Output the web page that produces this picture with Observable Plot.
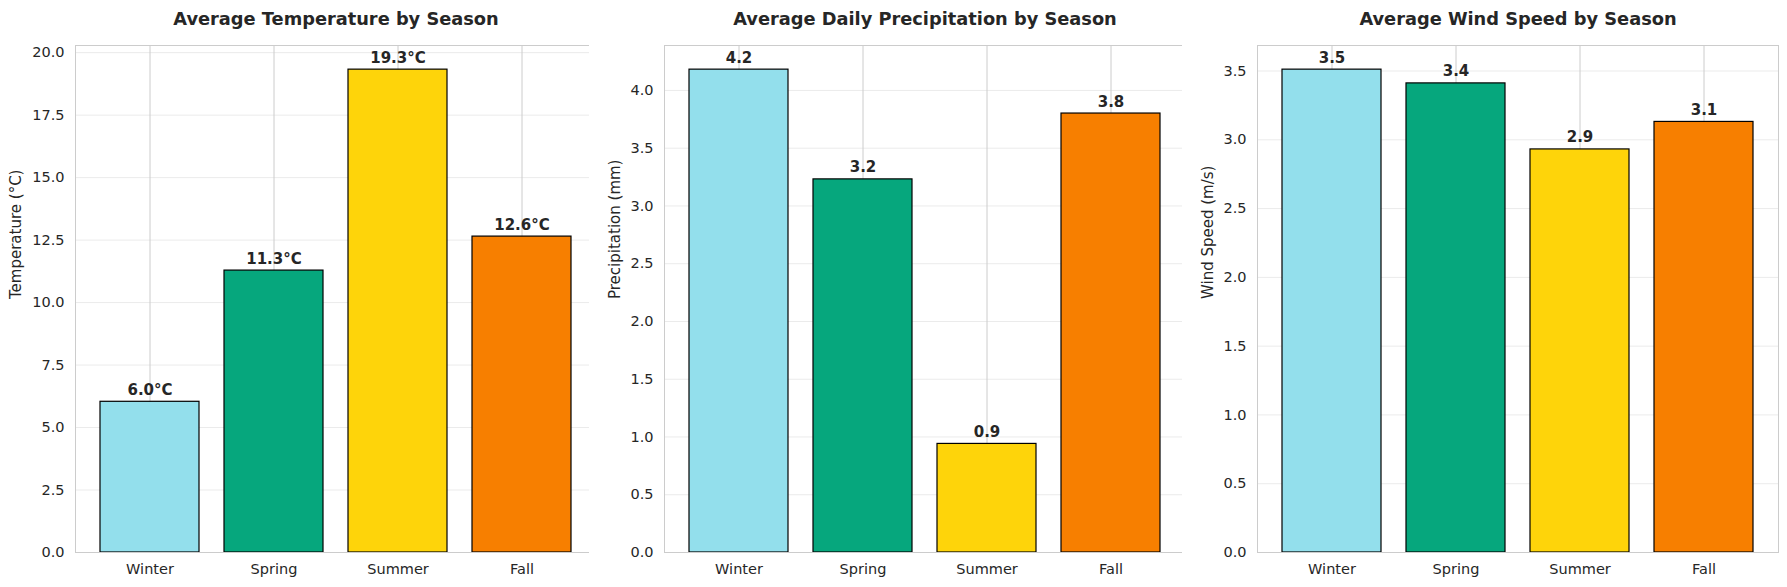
<!DOCTYPE html>
<html>
<head>
<meta charset="utf-8">
<script src="https://cdn.jsdelivr.net/npm/d3@7"></script>
<script src="https://cdn.jsdelivr.net/npm/@observablehq/plot@0.6"></script>
<style>
  body { margin: 0; background: white; }
  #chart { position: relative; width: 1787px; height: 587px; overflow: hidden; }
  #chart svg { position: absolute; top: 0; }
</style>
</head>
<body>
<div id="chart"></div>
<script>
// values
const seasons = ['Winter', 'Spring', 'Summer', 'Fall']
const seasonColors = ['#93dfec', '#06a77d', '#fed40a', '#f77f00']
const temperature = [6.03, 11.28, 19.32, 12.64]
const precipitation = [4.18, 3.23, 0.94, 3.80]
const windSpeed = [3.51, 3.41, 2.93, 3.13]

const tempTicks = [0, 2.5, 5, 7.5, 10, 12.5, 15, 17.5, 20]
const precipTicks = [0, 0.5, 1, 1.5, 2, 2.5, 3, 3.5, 4]
const windTicks = [0, 0.5, 1, 1.5, 2, 2.5, 3, 3.5]

const textColor = '#262626'
const f1 = d3.format('.1f')

function panel(opts) {
  const data = seasons.map((s, i) => ({season: s, value: opts.values[i]}))
  const top = d3.max(opts.values) * 1.05

  let chart = Plot.plot({
    width: 601,
    height: 587,
    marginLeft: 75,
    marginRight: 5,
    marginTop: 45,
    marginBottom: 35,
    x: {
      domain: seasons,
      paddingInner: 0.2,
      paddingOuter: 0.19,
      axis: null,
    },
    y: {
      domain: [0, top],
      axis: null,
    },
    color: { domain: seasons, range: seasonColors },
    marks: [
      Plot.gridY({ticks: opts.ticks, stroke: '#ebebeb', strokeOpacity: 1}),
      Plot.gridX({stroke: '#cccccc', strokeOpacity: 1, strokeWidth: 1}),
      Plot.barY(data, {
        x: 'season',
        y: 'value',
        fill: 'season',
        stroke: 'black',
        strokeWidth: 1.2,
      }),
      // value labels, baseline ~7px above the bar
      Plot.text(data, {
        x: 'season',
        y: 'value',
        text: d => f1(d.value) + opts.suffix,
        fontWeight: 'bold',
        fontSize: 15,
        fill: textColor,
        lineAnchor: 'middle',
        dy: -11.8,
      }),
      Plot.frame({stroke: '#cccccc', strokeWidth: 1}),
      Plot.axisY({
        ticks: opts.ticks,
        tickFormat: f1,
        tickSize: 0,
        tickPadding: 11,
        fontSize: 14.5,
        fill: textColor,
        label: null,
      }),
      Plot.text([opts.label], {
        frameAnchor: 'left',
        rotate: -90,
        dx: -opts.labelOffset,
        fontSize: 15,
        fill: textColor,
      }),
      Plot.axisX({
        tickSize: 0,
        tickPadding: 11,
        fontSize: 14.5,
        fill: textColor,
        label: null,
      }),
      Plot.text([opts.title], {
        frameAnchor: 'top',
        lineAnchor: 'middle',
        dy: -26.7,
        fontWeight: 'bold',
        fontSize: 17.8,
        fill: textColor,
      }),
    ],
    style: {
      fontFamily: 'DejaVu Sans',
      fontSize: '14.5px',
      color: textColor,
      background: 'white',
      overflow: 'visible',
    },
  })
  chart.style.left = opts.left + 'px'
  d3.select('#chart').append(() => chart)
}

panel({
  values: temperature, ticks: tempTicks, suffix: '°C',
  label: 'Temperature (°C)', title: 'Average Temperature by Season',
  left: 0, labelOffset: 59,
})
panel({
  values: precipitation, ticks: precipTicks, suffix: '',
  label: 'Precipitation (mm)', title: 'Average Daily Precipitation by Season',
  left: 589, labelOffset: 49,
})
panel({
  values: windSpeed, ticks: windTicks, suffix: '',
  label: 'Wind Speed (m/s)', title: 'Average Wind Speed by Season',
  left: 1182, labelOffset: 49,
})
</script>
</body>
</html>
